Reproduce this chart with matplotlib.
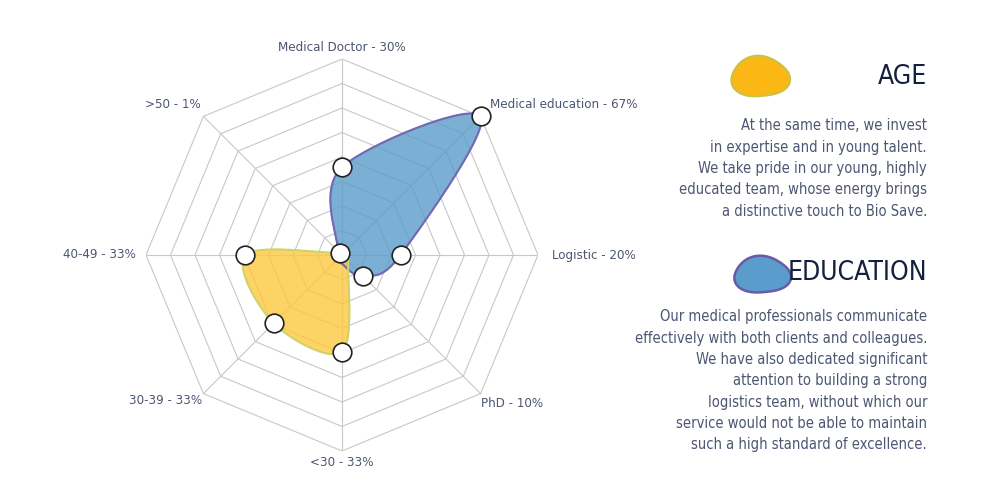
import numpy as np
import matplotlib.pyplot as plt

labels = ["Medical Doctor - 30%", "Medical education - 67%", "Logistic - 20%", "PhD - 10%",
          "<30 - 33%", "30-39 - 33%", "40-49 - 33%", ">50 - 1%"]
education = [30, 67, 20, 10, 3, 2, 1, 2]
age = [2, 1, 2, 3, 33, 33, 33, 1]
rmax = 67
rings = 8

age_text = ["At the same time, we invest", "in expertise and in young talent.",
            "We take pride in our young, highly", "educated team, whose energy brings",
            "a distinctive touch to Bio Save."]
edu_text = ["Our medical professionals communicate", "effectively with both clients and colleagues.",
            "We have also dedicated significant", "attention to building a strong",
            "logistics team, without which our", "service would not be able to maintain",
            "such a high standard of excellence."]

plt.rcParams["font.family"] = ["DejaVu Sans"]
plt.rcParams["font.stretch"] = "condensed"

TXT = "#4d5672"
NAVY = "#14213d"


def smooth(xs, ys, n=30, t=0.5):
    # closed cardinal spline through the points
    px, py = [], []
    m = len(xs)
    for i in range(m):
        p0 = np.array([xs[i - 1], ys[i - 1]])
        p1 = np.array([xs[i], ys[i]])
        p2 = np.array([xs[(i + 1) % m], ys[(i + 1) % m]])
        p3 = np.array([xs[(i + 2) % m], ys[(i + 2) % m]])
        m1 = t * (p2 - p0)
        m2 = t * (p3 - p1)
        for s in np.linspace(0, 1, n, endpoint=False):
            h1 = 2 * s**3 - 3 * s**2 + 1
            h2 = s**3 - 2 * s**2 + s
            h3 = -2 * s**3 + 3 * s**2
            h4 = s**3 - s**2
            p = h1 * p1 + h2 * m1 + h3 * p2 + h4 * m2
            px.append(p[0]); py.append(p[1])
    px.append(px[0]); py.append(py[0])
    return px, py


fig = plt.figure(figsize=(10, 5), dpi=100)
R = 196 / 500
ax = fig.add_axes([0.342 - R / 2, 0.49 - R, R, 2 * R])
ax.set_xlim(-1.0, 1.0)
ax.set_ylim(-1.0, 1.0)
ax.set_aspect("equal")
ax.axis("off")

n = len(labels)
ang = np.pi / 2 - np.arange(n) * 2 * np.pi / n
for k in range(1, rings + 1):
    r = k / rings
    ax.plot(np.append(r * np.cos(ang), r * np.cos(ang[0])),
            np.append(r * np.sin(ang), r * np.sin(ang[0])), color="#c8c8c8", lw=0.8, zorder=1)
for a in ang:
    ax.plot([0, np.cos(a)], [0, np.sin(a)], color="#c8c8c8", lw=0.8, zorder=1)

for vals, fc, ec in [(education, "#5a9bc9", "#7268b4"), (age, "#fec83e", "#cfd36a")]:
    r = np.array(vals) / rmax
    xs, ys = r * np.cos(ang), r * np.sin(ang)
    sx, sy = smooth(xs, ys)
    ax.fill(sx, sy, color=fc, alpha=0.8, zorder=2)
    ax.plot(sx, sy, color=ec, lw=1.5, zorder=3)

series = [education] * 4 + [age] * 4
for i, vals in enumerate(series):
    r = vals[i] / rmax
    ax.scatter(r * np.cos(ang[i]), r * np.sin(ang[i]), s=180, facecolor="white",
               edgecolor="#222222", lw=1.2, zorder=5)

pos = [(0, 1.06, "center"), (0.755, 0.77, "left"), (1.07, 0, "left"), (0.87, -0.76, "center"),
       (0, -1.06, "center"), (-0.9, -0.74, "center"), (-1.05, 0, "right"), (-0.72, 0.77, "right")]
for lab, (x, y, ha) in zip(labels, pos):
    ax.text(x, y, lab, ha=ha, va="center", fontsize=9.5, color=TXT, clip_on=False)

# right panel
bx = fig.add_axes([0, 0, 1, 1])
bx.set_xlim(0, 1000)
bx.set_ylim(500, 0)
bx.axis("off")
t = np.linspace(0, 2 * np.pi, 100)
blob = 1 + 0.06 * np.sin(3 * t + 0.5) + 0.04 * np.cos(2 * t)
bx.fill(760 + 28 * blob * np.cos(t), 77 + 21 * blob * np.sin(t), color="#fbb714", ec="#c9c24a", lw=1.5)
bx.fill(762 + 27 * blob * np.cos(t), 275 + 19 * blob * np.sin(t), color="#5a9ccb", ec="#6a5aa8", lw=1.8)
bx.text(927, 77, "AGE", ha="right", va="center", fontsize=19, color=NAVY)
bx.text(927, 273, "EDUCATION", ha="right", va="center", fontsize=19, color=NAVY)
for j, line in enumerate(age_text):
    bx.text(927, 126 + j * 21.3, line, ha="right", va="center", fontsize=10.5, color=TXT)
for j, line in enumerate(edu_text):
    bx.text(927, 317 + j * 21.3, line, ha="right", va="center", fontsize=10.5, color=TXT)

fig.savefig("out.png", dpi=100, facecolor="white")
